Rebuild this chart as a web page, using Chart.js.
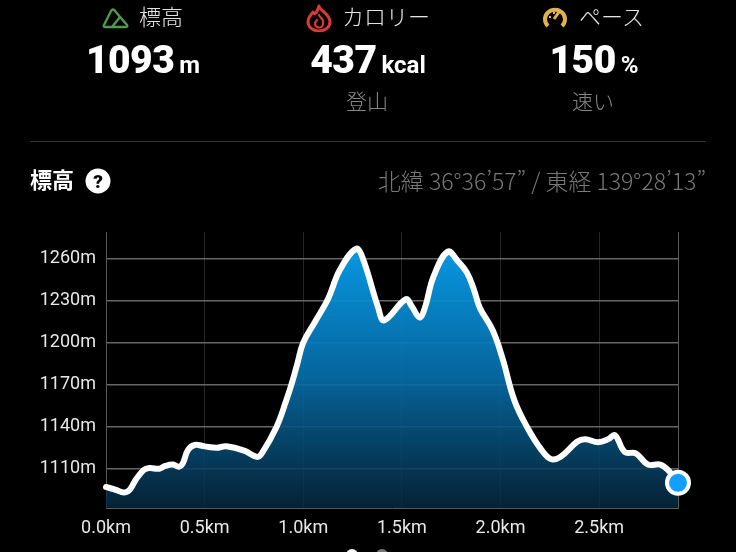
<!DOCTYPE html>
<html lang="ja">
<head>
<meta charset="utf-8">
<script src="https://cdn.jsdelivr.net/npm/chart.js@4"></script>
<style>
  html, body { margin: 0; background: #000; overflow: hidden; }
  #page { position: relative; width: 736px; height: 552px; overflow: hidden; font-family: "Noto Sans CJK JP", sans-serif; color: #fff; }
  #page canvas { position: absolute; left: 0; top: 0; }
  .t { position: absolute; white-space: nowrap; line-height: 1; }
  .c { text-align: center; }
  .label { font-size: 22px; font-weight: 300; color: #e4e4e4; top: 4px; }
  .num { font-family: Roboto; font-weight: 900; font-size: 39px; top: 41px; letter-spacing: -0.5px; }
  .num small { font-size: 24px; font-weight: 700; margin-left: 5px; letter-spacing: 0; }
  .sub { font-size: 21px; font-weight: 300; color: #868686; top: 90px; }
  .dot { position: absolute; border-radius: 50%; width: 12px; height: 12px; top: 549px; }
  svg { position: absolute; }
</style>
</head>
<body>
<div id="page">
  <canvas id="myChart" width="736" height="552"></canvas>

  <svg style="left:102px;top:6px" width="28" height="24" viewBox="0 0 28 24" fill="none" stroke="#4d9a50" stroke-width="2.4" stroke-linejoin="round" stroke-linecap="round">
    <path d="M3 21 Q1 21 2 19 L9 5 Q11 2 13 5 L25 19 Q26 21 24 21 Z M10 21 L18 11"/>
  </svg>
  <div class="t label" style="left:139px">標高</div>
  <div class="t num c" style="left:68px;width:150px">1093<small>m</small></div>

  <svg style="left:306px;top:4px" width="26" height="28" viewBox="0 0 26 28" fill="none" stroke="#d93a38" stroke-width="3" stroke-linejoin="round" stroke-linecap="round">
    <path d="M13 2 C14 7 24 10 24 18 A11 9 0 0 1 2 18 C2 13 5 11 7 8 C8 10 9 10 10 9 C11 7 12 5 13 2 Z"/>
    <path d="M13 11 C14 14 18 15 17 19 A4 4 0 0 1 9 20 C9 18 10 17 11 16" stroke-width="2.2"/>
  </svg>
  <div class="t label" style="left:342px">カロリー</div>
  <div class="t num c" style="left:293px;width:150px">437<small>kcal</small></div>
  <div class="t sub c" style="left:317px;width:100px">登山</div>

  <svg style="left:543px;top:6px" width="24" height="22" viewBox="0 0 24 22" fill="none" stroke="#e3b24f" stroke-width="4">
    <path d="M5 20 A10 9.5 0 1 1 19 20"/>
    <path d="M11 13 L16 6" stroke-width="3"/>
    <path d="M6 11 L8 11 M11 6 L11 8" stroke-width="2"/>
  </svg>
  <div class="t label" style="left:579px">ペース</div>
  <div class="t num c" style="left:519px;width:150px">150<small>%</small></div>
  <div class="t sub c" style="left:543px;width:100px">速い</div>

  <div style="position:absolute;left:30px;top:141px;width:676px;height:1px;background:#333"></div>

  <div class="t" style="left:30px;top:167px;font-size:22px;font-weight:700">標高</div>
  <svg style="left:85px;top:168px" width="26" height="26" viewBox="0 0 26 26">
    <circle cx="13" cy="13" r="12.5" fill="#fff"/>
    <text x="13" y="20" text-anchor="middle" font-family="Roboto" font-weight="900" font-size="19" fill="#000">?</text>
  </svg>
  <div class="t" style="right:30px;top:169px;font-size:23px;font-weight:300;color:#787878">北緯 36°36’57” / 東経 139°28’13”</div>

  <div class="dot" style="left:346px;background:#fff"></div>
  <div class="dot" style="left:376px;background:#777"></div>
</div>

<script>
const distanceKm = [0, 0.05, 0.09, 0.12, 0.15, 0.19, 0.22, 0.27, 0.30, 0.34, 0.37, 0.39, 0.416, 0.45, 0.50, 0.56, 0.61, 0.70, 0.765, 0.79, 0.865, 0.912, 0.94, 0.97, 1.0, 1.06, 1.125, 1.186, 1.267, 1.30, 1.38, 1.41, 1.52, 1.55, 1.59, 1.617, 1.66, 1.733, 1.785, 1.83, 1.865, 1.895, 1.96, 2.01, 2.07, 2.134, 2.205, 2.255, 2.305, 2.39, 2.43, 2.495, 2.545, 2.58, 2.63, 2.686, 2.747, 2.81, 2.85, 2.9];
const elevationM = [1097, 1095, 1093, 1095, 1102, 1109, 1110.5, 1110, 1112, 1113, 1111.5, 1114, 1123.5, 1127, 1126, 1125, 1126, 1123, 1118.5, 1121, 1140, 1158, 1170, 1185, 1200, 1215, 1231, 1252, 1267, 1261, 1225, 1216, 1231, 1226, 1218, 1225, 1247, 1265, 1258, 1250, 1238, 1225, 1209, 1189, 1159, 1140, 1124, 1117, 1118.6, 1129.5, 1131, 1129, 1131, 1134, 1122, 1121, 1113, 1113, 1109, 1100];
const yTicks = [1110, 1140, 1170, 1200, 1230, 1260];
const xTicks = [0, 0.5, 1, 1.5, 2, 2.5, 2.9];

const main = () => {
  const ctx = document.getElementById('myChart').getContext('2d');
  const points = distanceKm.map((x, i) => ({ x, y: elevationM[i] }));
  const lastIndex = points.length - 1;

  const fillGradient = (context) => {
    const area = context.chart.chartArea;
    if (!area) return 'transparent';
    const g = context.chart.ctx.createLinearGradient(0, 245, 0, area.bottom);
    g.addColorStop(0, 'rgba(8,160,240,0.95)');
    g.addColorStop(0.5, 'rgba(6,110,170,0.92)');
    g.addColorStop(1, 'rgba(6,40,62,0.85)');
    return g;
  };

  new Chart(ctx, {
    type: 'scatter',
    data: {
      datasets: [{
        data: points,
        showLine: true,
        borderColor: '#fff',
        borderWidth: 6,
        tension: 0.4,
        borderCapStyle: 'round',
        borderJoinStyle: 'round',
        fill: 'start',
        backgroundColor: fillGradient,
        clip: false,
        pointRadius: (c) => (c.dataIndex === lastIndex ? 11 : 0),
        pointBorderWidth: 4,
        pointBorderColor: '#fff',
        pointBackgroundColor: '#12a0ff',
      }],
    },
    options: {
      responsive: false,
      animation: false,
      layout: { padding: { top: 232, right: 58, left: 0, bottom: 0 } },
      plugins: { legend: { display: false }, tooltip: { enabled: false } },
      scales: {
        x: {
          type: 'linear',
          min: 0,
          max: 2.9,
          afterBuildTicks: (s) => { s.ticks = xTicks.map((value) => ({ value })); },
          afterFit: (s) => { s.height = 44; },
          grid: {
            drawTicks: false,
            color: (c) => (c.tick && (c.tick.value === 0 || c.tick.value === 2.9) ? '#5a5a5a' : '#262626'),
          },
          border: { color: '#5a5a5a' },
          ticks: {
            color: '#e8e8e8',
            padding: 10,
            maxRotation: 0,
            autoSkip: false,
            font: { family: 'Roboto', size: 18 },
            callback: (v) => (v === 2.9 ? '' : v.toFixed(1) + 'km'),
          },
        },
        y: {
          min: 1082,
          max: 1279,
          afterBuildTicks: (s) => { s.ticks = yTicks.map((value) => ({ value })); },
          afterFit: (s) => { s.width = 106; },
          grid: { drawTicks: false, color: '#666', lineWidth: 1.5 },
          border: { color: '#5a5a5a' },
          ticks: {
            color: '#e8e8e8',
            padding: 10,
            autoSkip: false,
            font: { family: 'Roboto', size: 18 },
            callback: (v) => v + 'm',
          },
        },
      },
    },
  });
};

main();
</script>
</body>
</html>
